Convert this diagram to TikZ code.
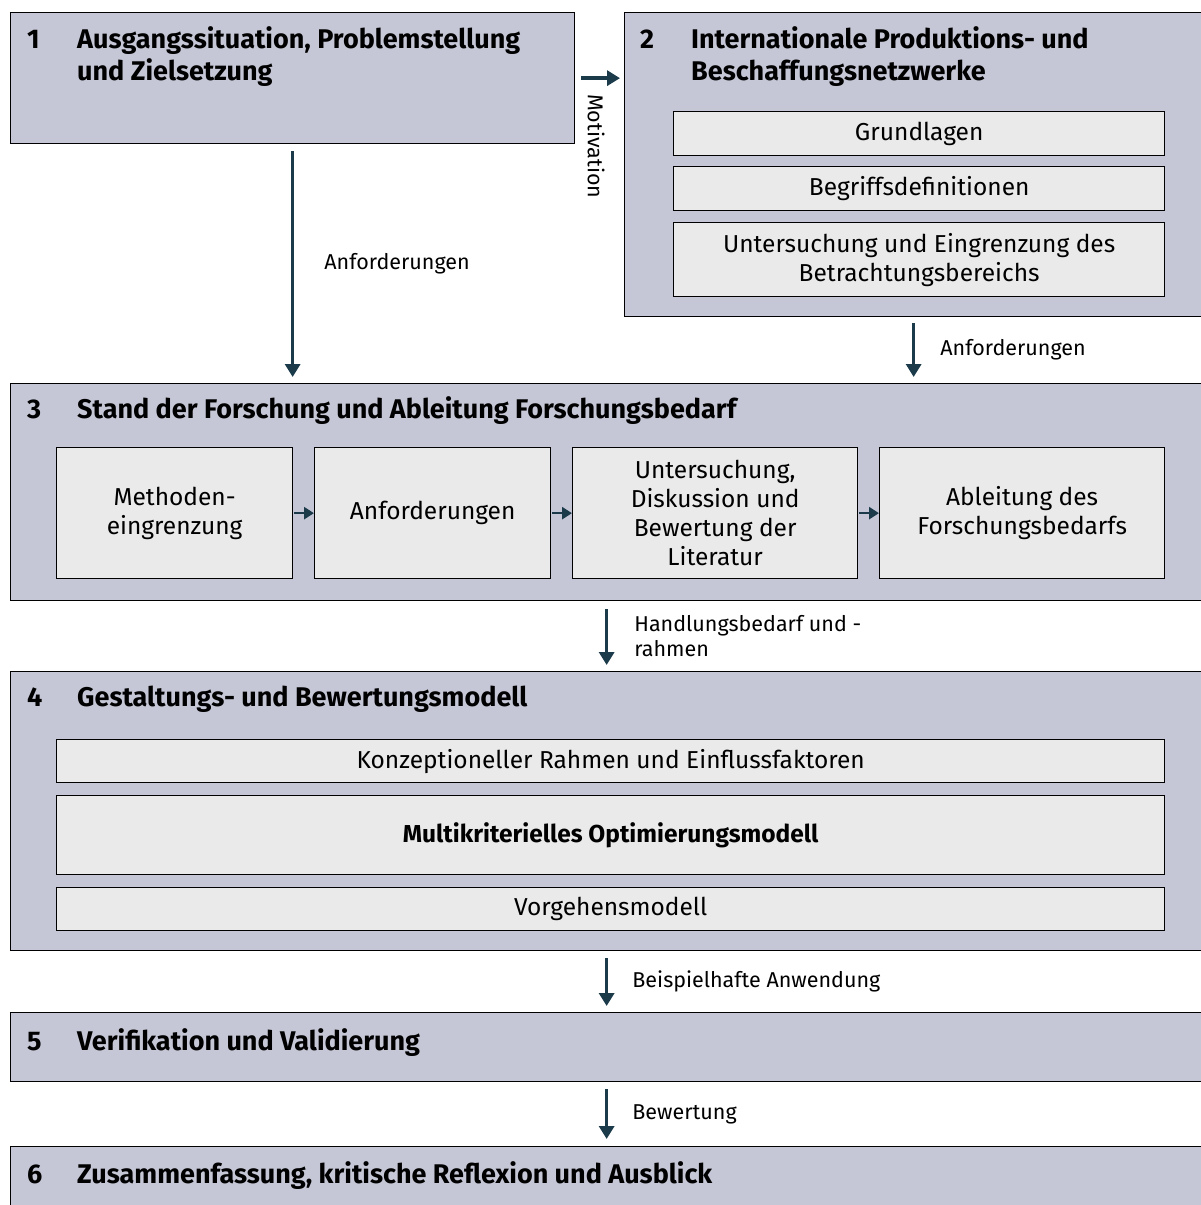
\documentclass[tikz,border=0pt]{standalone}
\usepackage{fontspec}
\setmainfont{Fira Sans}
\usetikzlibrary{arrows.meta, shapes}
\definecolor{kapitel}{HTML}{C5C7D6}
\definecolor{teil}{HTML}{EAEAEA}
\definecolor{pfeil}{HTML}{1B3A4A}

\begin{document}
\begin{tikzpicture}[x=1pt, y=-1pt]
\tikzstyle{chapter} = [rectangle, draw, fill=kapitel, line width=1.3pt,
    anchor=north west, inner sep=0pt, minimum width=1192pt]
\tikzstyle{block} = [rectangle, draw, fill=teil, line width=1.3pt,
    align=center, font=\fontsize{24.5}{29}\selectfont, inner sep=0pt]
\tikzstyle{title} = [anchor=base west, align=left, inner sep=0pt,
    font=\fontsize{27}{32}\selectfont\bfseries]
\tikzstyle{note} = [anchor=west, align=left, inner sep=0pt,
    font=\fontsize{21.5}{25}\selectfont]
\tikzstyle{line} = [draw=pfeil, line width=3.5pt, -{Triangle[width=15pt,length=13pt]}]
\tikzstyle{step line} = [draw=pfeil, line width=2.5pt, -{Triangle[width=12pt,length=10pt]}, shorten <=1pt]

\useasboundingbox (0,0) rectangle (1201,1205);
\clip (0,0) rectangle (1201,1205);

 % Kapitel
 \node [chapter, minimum width=564pt, minimum height=131pt] (ausgang) at (10,12) {};
 \node [chapter, minimum width=578pt, minimum height=304pt] (netzwerke) at (624,12) {};
 \node [chapter, minimum height=217pt] (stand) at (10,383) {};
 \node [chapter, minimum height=279pt] (modell) at (10,671) {};
 \node [chapter, minimum height=69pt] (verif) at (10,1012) {};
 \node [chapter, minimum height=100pt] (fazit) at (10,1146) {};

 % Titel
 \node [title] at (27,48) {1};
 \node [title] at (77,80) {Ausgangssituation, Problemstellung\\und Zielsetzung};
 \node [title] at (640,48) {2};
 \node [title] at (691,80) {Internationale Produktions- und\\Beschaffungsnetzwerke};
 \node [title] at (27,418) {3};
 \node [title] at (77,418) {Stand der Forschung und Ableitung Forschungsbedarf};
 \node [title] at (27,706) {4};
 \node [title] at (77,706) {Gestaltungs- und Bewertungsmodell};
 \node [title] at (27,1050) {5};
 \node [title] at (77,1050) {Verifikation und Validierung};
 \node [title] at (27,1183) {6};
 \node [title] at (77,1183) {Zusammenfassung, kritische Reflexion und Ausblick};

 % Kapitel 2
 \node [block, anchor=north west, minimum width=491pt, minimum height=44pt] (grundlagen) at (673,111) {Grundlagen};
 \node [block, below of=grundlagen, node distance=55pt, minimum width=491pt, minimum height=44pt] (begriffe) {Begriffsdefinitionen};
 \node [block, below of=begriffe, node distance=71pt, minimum width=491pt, minimum height=74pt] (bereich) {Untersuchung und Eingrenzung des\\Betrachtungsbereichs};

 % Kapitel 3
 \node [block, anchor=north west, minimum width=236pt, minimum height=131pt] (methoden) at (56,447) {Methoden-\\eingrenzung};
 \node [block, right of=methoden, node distance=258pt, minimum width=236pt, minimum height=131pt] (anforderungen) {Anforderungen};
 \node [block, right of=anforderungen, node distance=282.5pt, minimum width=285pt, minimum height=131pt] (literatur) {Untersuchung,\\Diskussion und\\Bewertung der\\Literatur};
 \node [block, right of=literatur, node distance=307pt, minimum width=285pt, minimum height=131pt] (bedarf) {Ableitung des\\Forschungsbedarfs};

 % Kapitel 4
 \node [block, anchor=north west, minimum width=1108pt, minimum height=43pt] (rahmen) at (56,739) {Konzeptioneller Rahmen und Einflussfaktoren};
 \node [block, below of=rahmen, node distance=74pt, minimum width=1108pt, minimum height=79pt, font=\fontsize{24.5}{29}\selectfont\bfseries] (optimierung) {Multikriterielles Optimierungsmodell};
 \node [block, below of=optimierung, node distance=74pt, minimum width=1108pt, minimum height=43pt] (vorgehen) {Vorgehensmodell};

 \node [note, rotate=-90] (motivation) at (596,94) {Motivation};

 \path [line, shorten <=6pt, shorten >=4pt] (ausgang.east) -- (ausgang.east -| netzwerke.west);
 \path [line, shorten <=7pt, shorten >=6pt] (ausgang.south) -- node [note, xshift=30pt] {Anforderungen} (ausgang.south |- stand.north);
 \path [line, shorten <=6pt, shorten >=6pt] (netzwerke.south) -- node [note, xshift=25pt] {Anforderungen} (netzwerke.south |- stand.north);
 \path [line, shorten <=8pt, shorten >=6pt] (stand.south) -- node [note, xshift=26pt] {Handlungsbedarf und -\\rahmen} (modell.north);
 \path [line, shorten <=7pt, shorten >=6pt] (modell.south) -- node [note, xshift=24pt] {Beispielhafte Anwendung} (verif.north);
 \path [line, shorten <=7pt, shorten >=7pt] (verif.south) -- node [note, xshift=24pt] {Bewertung} (fazit.north);

 \path [step line] (methoden) -- (anforderungen);
 \path [step line] (anforderungen) -- (literatur);
 \path [step line] (literatur) -- (bedarf);
\end{tikzpicture}
\end{document}
